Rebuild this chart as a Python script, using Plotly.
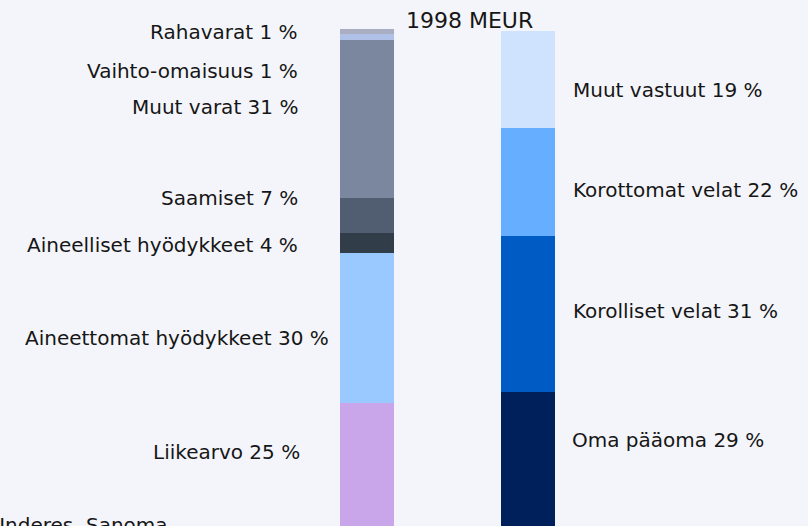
import plotly.graph_objects as go

# ---- data (bottom to top), values in % of balance sheet ----
assets_labels = ["Liikearvo 25 %", "Aineettomat hyödykkeet 30 %", "Aineelliset hyödykkeet 4 %",
                 "Saamiset 7 %", "Muut varat 31 %", "Vaihto-omaisuus 1 %", "Rahavarat 1 %"]
assets_values = [25.6, 30.0, 4.0, 7.0, 31.6, 1.2, 1.0]
assets_colors = ["#c8a6e9", "#99c9ff", "#323d4a", "#515e71", "#7b869f", "#b0c1e7", "#a9aec2"]

liab_labels = ["Oma pääoma 29 %", "Korolliset velat 31 %", "Korottomat velat 22 %", "Muut vastuut 19 %"]
liab_values = [27.8, 31.2, 21.6, 19.4]
liab_colors = ["#00205c", "#005bc4", "#66aeff", "#cfe3ff"]

title_text = "1998 MEUR"
source_text = "Lähde: Inderes, Sanoma"

# ---- layout helpers (pixel positions of labels) ----
W, H = 808, 526
FONT = "DejaVu Sans"
FS = 20
TXT = "#161616"
BG = "#f4f5fa"

left_label_y = [452, 338, 245, 198, 107, 71, 32]
left_label_x = [302, 331, 300, 300, 300, 300, 300]
right_label_y = [440, 311, 190, 90]
right_label_x = [570, 571, 571, 571]

fig = go.Figure()
for lab, v, c in zip(assets_labels, assets_values, assets_colors):
    fig.add_trace(go.Bar(x=[0], y=[v], name=lab, marker=dict(color=c, line=dict(width=0)),
                         width=0.3354, hoverinfo="name"))
for lab, v, c in zip(liab_labels, liab_values, liab_colors):
    fig.add_trace(go.Bar(x=[1], y=[v], name=lab, marker=dict(color=c, line=dict(width=0)),
                         width=0.3354, hoverinfo="name"))

ann = []
for lab, px, py in zip(assets_labels, left_label_x, left_label_y):
    ann.append(dict(text=lab, x=px / W, y=1 - py / H, xref="paper", yref="paper",
                    xanchor="right", yanchor="middle", showarrow=False,
                    font=dict(family=FONT, size=FS, color=TXT)))
for lab, px, py in zip(liab_labels, right_label_x, right_label_y):
    ann.append(dict(text=lab, x=px / W, y=1 - py / H, xref="paper", yref="paper",
                    xanchor="left", yanchor="middle", showarrow=False,
                    font=dict(family=FONT, size=FS, color=TXT)))
ann.append(dict(text=title_text, x=470 / W, y=1 - 21 / H, xref="paper", yref="paper",
                xanchor="center", yanchor="middle", showarrow=False,
                font=dict(family=FONT, size=22, color=TXT)))
ann.append(dict(text=source_text, x=170 / W, y=1 - 511 / H, xref="paper", yref="paper",
                xanchor="right", yanchor="top", showarrow=False,
                font=dict(family=FONT, size=FS, color=TXT)))

x0 = -367 / 161
fig.update_layout(
    width=W, height=H,
    barmode="stack",
    showlegend=False,
    paper_bgcolor=BG, plot_bgcolor=BG,
    margin=dict(l=0, r=0, t=0, b=0),
    xaxis=dict(range=[x0, x0 + W / 161], visible=False, fixedrange=True),
    yaxis=dict(range=[(531 - H) / 5, 531 / 5], visible=False, fixedrange=True),
    annotations=ann,
)
fig.write_html("out.html", config={"displayModeBar": False},
               post_script="document.body.style.margin='0';document.body.style.overflow='hidden';")
